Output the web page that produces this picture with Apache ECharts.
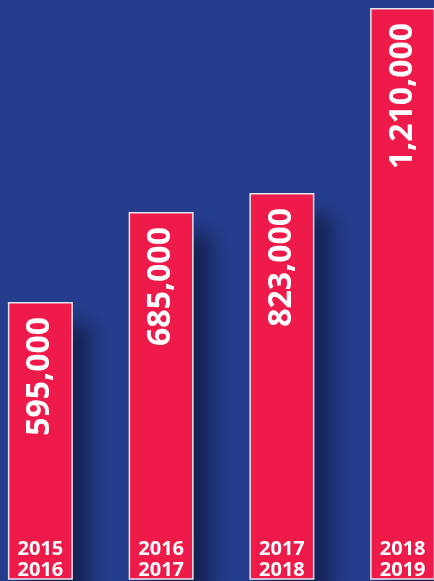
<!DOCTYPE html>
<html>
<head>
<meta charset="utf-8">
<script src="https://cdn.jsdelivr.net/npm/echarts@6/dist/echarts.min.js"></script>
<style>
html,body{margin:0;padding:0;background:#253D8D;overflow:hidden;}
#chart{width:483px;height:581px;margin-left:-20px;}
</style>
</head>
<body>
<div id="chart"></div>
<script>
// Category labels (two lines: school years)
const categories = ['2015\n2016', '2016\n2017', '2017\n2018', '2018\n2019'];
// Values printed on the bars
const valueLabels = ['595,000', '685,000', '823,000', '1,210,000'];
// Bar heights as drawn in the picture (infographic: 2nd bar is drawn taller than its label)
const barHeights = [595000, 783000, 823000, 1210000];

const chart = echarts.init(document.getElementById('chart'));
chart.setOption({
  backgroundColor: '#253D8D',
  animation: false,
  grid: { left: 0, right: 0, top: 0, bottom: 0 },
  xAxis: {
    type: 'category',
    data: categories,
    axisLine: { show: false },
    axisTick: { show: false },
    axisLabel: {
      inside: true,
      margin: -2,
      color: '#ffffff',
      fontFamily: 'Open Sans',
      fontWeight: 'bold',
      fontSize: 20,
      lineHeight: 21
    },
    z: 10
  },
  yAxis: {
    type: 'value',
    min: 15400,
    max: 1226600,
    show: false,
    splitLine: { show: false }
  },
  series: [{
    // shadow layer
    type: 'bar',
    data: barHeights,
    barWidth: 65,
    silent: true,
    z: 1,
    itemStyle: {
      color: '#1B2C66',
      shadowColor: 'rgba(12,22,55,0.65)',
      shadowBlur: 18,
      shadowOffsetX: 18,
      shadowOffsetY: 22
    }
  }, {
    type: 'bar',
    data: barHeights,
    barWidth: 65,
    barGap: '-100%',
    z: 2,
    itemStyle: {
      color: '#ED1A4A',
      borderColor: '#E4E6F0',
      borderWidth: 1.5
    },
    label: {
      show: true,
      position: 'insideTop',
      rotate: 90,
      align: 'right',
      verticalAlign: 'middle',
      distance: 15,
      color: '#ffffff',
      fontFamily: 'Open Sans',
      fontWeight: 'bold',
      fontSize: 32,
      formatter: (p) => valueLabels[p.dataIndex]
    }
  }]
});
</script>
</body>
</html>
